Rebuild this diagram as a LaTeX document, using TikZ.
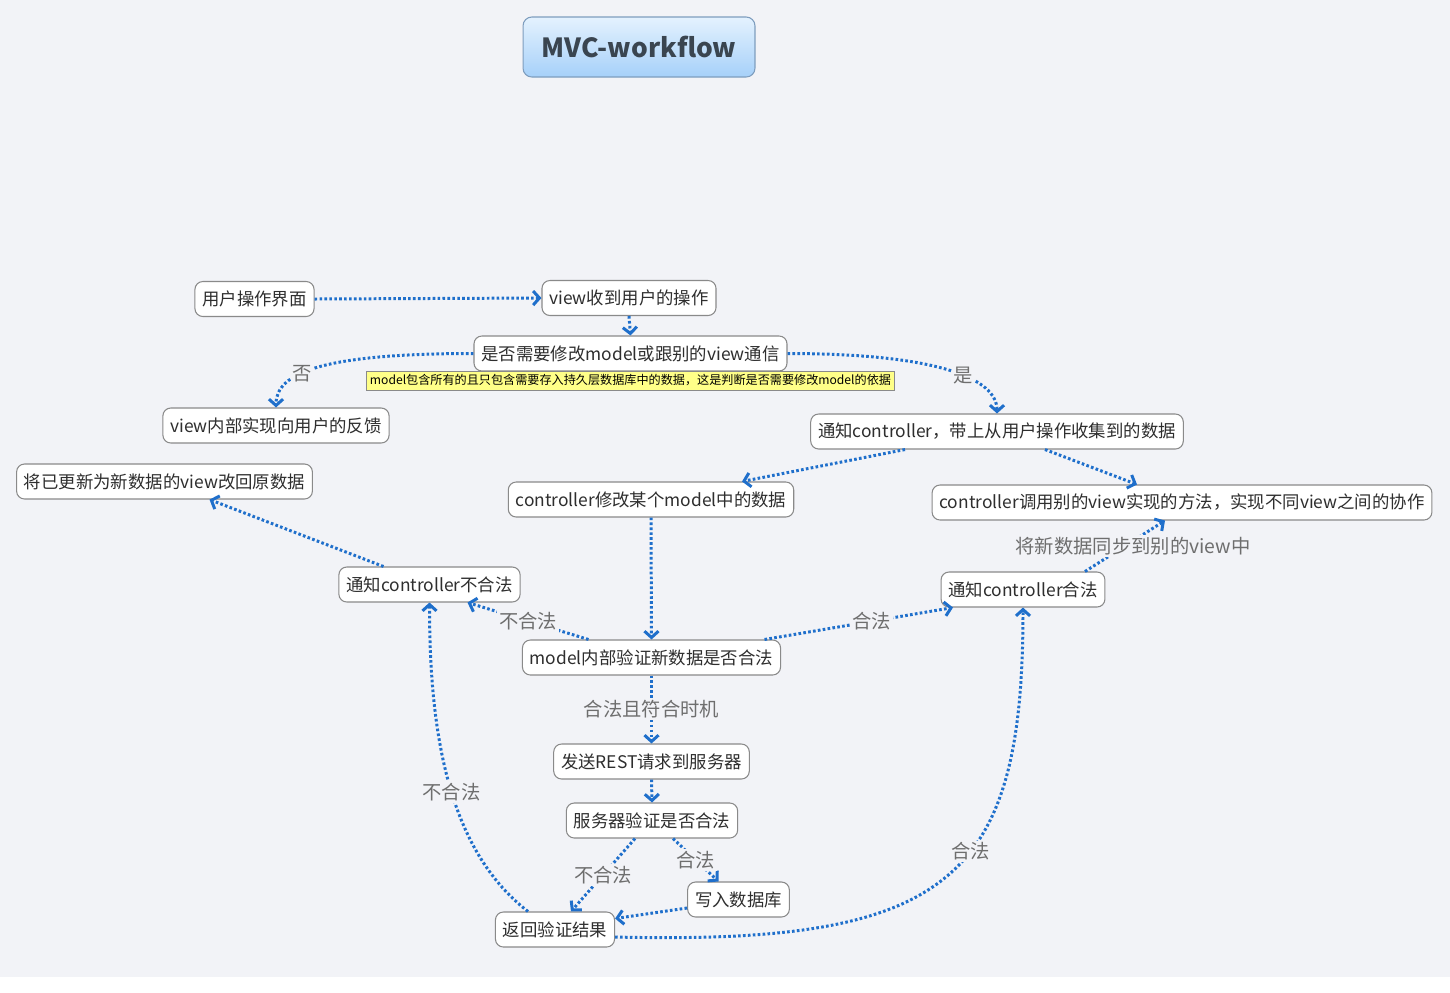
\documentclass[tikz,border=0pt]{standalone}
\usepackage{fontspec}
\setmainfont{Noto Sans CJK SC}
\usetikzlibrary{arrows.meta,calc}
\definecolor{flow}{HTML}{1F6FCB}
\definecolor{paper}{HTML}{F2F3F7}
\definecolor{frame}{HTML}{8A8A8A}
\definecolor{txt}{HTML}{2E2E2E}
\definecolor{lbltxt}{HTML}{6E6E6E}
\definecolor{notefill}{HTML}{FFFF88}
\definecolor{titletop}{HTML}{E4F2FE}
\definecolor{titlebot}{HTML}{A6D0F9}
\definecolor{titleframe}{HTML}{7E9DBE}
\definecolor{titletxt}{HTML}{3A4550}

\begin{document}
\begin{tikzpicture}[x=0.02cm,y=-0.02cm,
  box/.style={draw=frame,line width=0.6pt,fill=white,rounded corners=4.5pt,
    minimum height=0.7cm,inner xsep=4.2pt,text=txt,font=\fontsize{9.9}{11}\selectfont},
  note/.style={draw=frame,line width=0.4pt,fill=notefill,minimum height=0.38cm,
    inner xsep=2pt,inner ysep=1pt,text=black,font=\fontsize{6.9}{8}\selectfont},
  heading/.style={draw=titleframe,line width=0.6pt,rounded corners=5pt,
    top color=titletop,bottom color=titlebot,minimum width=4.64cm,minimum height=1.2cm,
    text=titletxt,font=\bfseries\fontsize{15}{18}\selectfont},
  flowline/.style={flow,line width=1.7pt,dash pattern=on 1.5pt off 1.3pt,
    -{Straight Barb[length=3.6pt,width=8pt]}},
  lbl/.style={fill=paper,text=lbltxt,inner sep=1pt,font=\fontsize{11}{13}\selectfont},
  ]
  % Canvas
  \useasboundingbox (0,0) rectangle (1450,992);
  \fill[paper] (0,0) rectangle (1450,977);

  % Title
  \node[heading] (head) at (639,47) {MVC-workflow};

  % View side
  \node[box] (user) at (254.5,299) {用户操作界面};
  \node[box] (recv) at (629,298) {view收到用户的操作};
  \node[box] (ask) at (630.5,353.5) {是否需要修改model或跟别的view通信};
  \node[note] (hint) at (630.5,380.5) {model包含所有的且只包含需要存入持久层数据库中的数据，这是判断是否需要修改model的依据};
  \node[box] (inner) at (276,425.5) {view内部实现向用户的反馈};

  % Controller side
  \node[box] (notify) at (997,431.5) {通知controller，带上从用户操作收集到的数据};
  \node[box] (revert) at (164.5,481.5) {将已更新为新数据的view改回原数据};
  \node[box] (change) at (651,499.5) {controller修改某个model中的数据};
  \node[box] (other) at (1182,502.5) {controller调用别的view实现的方法，实现不同view之间的协作};
  \node[box] (bad) at (429.5,584.5) {通知controller不合法};
  \node[box] (good) at (1023,589.5) {通知controller合法};

  % Model and server
  \node[box] (check) at (651.5,657.5) {model内部验证新数据是否合法};
  \node[box] (rest) at (651.5,761.5) {发送REST请求到服务器};
  \node[box] (server) at (652,820.5) {服务器验证是否合法};
  \node[box] (db) at (738.5,899.5) {写入数据库};
  \node[box] (ret) at (555,929.5) {返回验证结果};

  % Connectors
  \draw[flowline] (user.east) -- (recv.west);
  \draw[flowline] (recv.south) -- (ask.north);
  \draw[flowline] (ask.west) .. controls +(-150,0) and +(0,-35) .. (inner.north)
    node[lbl,pos=0.6] {否};
  \draw[flowline] (ask.east) .. controls +(150,0) and +(0,-35) .. (notify.north)
    node[lbl,pos=0.58] {是};
  \draw[flowline] ($(notify.south)+(-92,0)$) -- ($(change.north)+(91,0)$);
  \draw[flowline] ($(notify.south)+(48,0)$) -- ($(other.north)+(-45,0)$);
  \draw[flowline] (change.south) -- (check.north);
  \draw[flowline] ($(check.north)+(-63,0)$) -- node[lbl] {不合法} ($(bad.south)+(38,0)$);
  \draw[flowline] ($(check.north)+(113,0)$) -- node[lbl,pos=0.57] {合法} ($(good.south)+(-70,0)$);
  \draw[flowline] ($(good.north)+(62,0)$) -- node[lbl,pos=0.5,xshift=0.16cm] {将新数据同步到别的view中} ($(other.south)+(-17,0)$);
  \draw[flowline] ($(bad.north)+(-46,0)$) -- ($(revert.south)+(45,0)$);
  \draw[flowline] (check.south) -- node[lbl] {合法且符合时机} (rest.north);
  \draw[flowline] (rest.south) -- (server.north);
  \draw[flowline] ($(server.south)+(-17,0)$) -- node[lbl] {不合法} ($(ret.north)+(16,0)$);
  \draw[flowline] ($(server.south)+(21,0)$) -- node[lbl] {合法} ($(db.north)+(-20,0)$);
  \draw[flowline] ($(db.west)+(0,8.5)$) -- ($(ret.east)+(0,-11)$);
  \draw[flowline] ($(ret.north)+(-27,0)$) .. controls +(-80,-62) and +(0,130) .. (bad.south)
    node[lbl,pos=0.47] {不合法};
  \draw[flowline] ($(ret.east)+(0,7.5)$) .. controls +(335,8) and +(0,273) .. (good.south)
    node[lbl,pos=0.58] {合法};
\end{tikzpicture}
\end{document}
